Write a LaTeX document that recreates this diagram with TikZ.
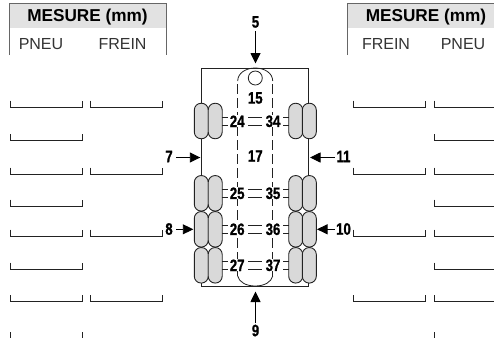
\documentclass[tikz,border=0pt]{standalone}
\usepackage{fontspec}
\setmainfont{Liberation Sans}
\newfontfamily\numfont[FakeStretch=0.8,FakeBold=1]{Liberation Sans Bold}
\usetikzlibrary{arrows.meta}
\definecolor{hdrgray}{HTML}{E2E2E2}
\definecolor{tiregray}{HTML}{D9D9D9}
\definecolor{inkgray}{HTML}{222222}
\definecolor{framegray}{HTML}{666666}
\tikzset{
  tire/.style={draw=inkgray,line width=0.9pt,fill=tiregray,rounded corners=6.8pt,minimum width=14pt,minimum height=35.5pt,inner sep=0pt,outer sep=0pt},
  num/.style={font=\numfont\fontsize{16.5}{16.5}\selectfont,text=black,fill=white,inner sep=0.2pt,anchor=center},
  free/.style={font=\numfont\fontsize{16.5}{16.5}\selectfont,text=black,inner sep=0pt,anchor=center},
  hbold/.style={font=\bfseries\fontsize{17.2}{17.2}\selectfont,inner sep=0pt,anchor=center},
  hreg/.style={font=\fontsize{16}{16}\selectfont,text=black!80,inner sep=0pt,anchor=center},
  bracket/.style={draw=inkgray,line width=0.9pt},
  body/.style={draw=inkgray,line width=1pt},
  lane/.style={draw=inkgray,line width=0.8pt},
  frameline/.style={draw=framegray,line width=1pt},
  arr/.style={draw=black,line width=0.9pt,-{Triangle[length=10.5pt,width=10pt]},shorten >=0pt},
  tick/.style={draw=inkgray,line width=0.8pt}
}
\begin{document}
\begin{tikzpicture}[x=1pt,y=-1pt]
\useasboundingbox (0,0) rectangle (494,338);
% headers
\fill[hdrgray] (9,3.5) rectangle (166,28);
\fill[hdrgray] (347,3.5) rectangle (494,28);
\draw[frameline] (9,55) -- (9,3.5) -- (166,3.5) -- (166,55);
\draw[frameline] (347,55) -- (347,3.5) -- (494,3.5);
\node[hbold] (mL) at (87.5,17) {MESURE (mm)};
\node[hbold] (mR) at (426,17) {MESURE (mm)};
\node[hreg] (pL) at (41,44) {PNEU};
\node[hreg] (fL) at (122.5,44) {FREIN};
\node[hreg] (fR) at (386,44) {FREIN};
\node[hreg] (pR) at (463,44) {PNEU};
% brackets
\foreach \y in {107,140.7,174,206,236,269,301.7}{
  \draw[bracket] (10.5,\y-6.5) -- (10.5,\y) -- (82,\y) -- (82,\y-6.5);
  \draw[bracket] (434,\y-6.5) -- (434,\y) -- (494,\y);
}
\foreach \y in {107,174,236,301.7}{
  \draw[bracket] (90.5,\y-6.5) -- (90.5,\y) -- (162,\y) -- (162,\y-6.5);
  \draw[bracket] (353.5,\y-6.5) -- (353.5,\y) -- (425,\y) -- (425,\y-6.5);
}
\draw[bracket] (10.5,332) -- (10.5,338);
\draw[bracket] (82,332) -- (82,338);
\draw[bracket] (434,332) -- (434,338);
% body
\draw[body] (201.3,68) rectangle (308.7,286);
% lane
\draw[lane] (237.7,81) .. controls (237.7,73) and (246,68) .. (255.2,68) .. controls (264.4,68) and (272.7,73) .. (272.7,81);
\draw[lane,dash pattern=on 10pt off 4pt] (237.7,84) -- (237.7,276);
\draw[lane,dash pattern=on 10pt off 4pt] (272.7,84) -- (272.7,276);
\draw[lane] (237.7,276) .. controls (239,282) and (246,286) .. (255.2,286) .. controls (264.4,286) and (271.4,282) .. (272.7,276);
\node[draw=inkgray,line width=0.8pt,fill=white,circle,minimum size=14pt,inner sep=0pt] (hole) at (255.3,78) {};
% tires
\foreach \nm/\y in {a/121,b/193.3,c/229.3,d/265.3}{
  \node[tire] (\nm1) at (201.3,\y) {};
  \node[tire] (\nm2) at (215.2,\y) {};
  \node[tire] (\nm3) at (295.7,\y) {};
  \node[tire] (\nm4) at (309.3,\y) {};
}
% ticks and labels
\foreach \l/\r/\y in {24/34/121.3,25/35/193.3,26/36/229.3,27/37/265.3}{
  \node[num] (n\l) at (237.2,\y) {\l};
  \node[num] (n\r) at (273,\y) {\r};
  \foreach \d in {-4,4}{
    \draw[tick] (222.3,\y+\d) -- (228,\y+\d);
    \draw[tick] (248,\y+\d) -- (262,\y+\d);
    \draw[tick] (283,\y+\d) -- (288.7,\y+\d);
  }
}
\node[num] (n15) at (255.3,98) {15};
\node[num] (n17) at (255.3,156) {17};
% arrows
\node[free] (l5) at (255.5,22) {5};
\node[free] (l7) at (169,156.5) {7};
\node[free] (l8) at (169,229) {8};
\node[free] (l9) at (255.5,330.5) {9};
\node[free] (l10) at (343.5,229) {10};
\node[free] (l11) at (343.5,156.5) {11};
\coordinate (t5) at (255.5,63.5);
\coordinate (t7) at (200.3,157.5);
\coordinate (t8) at (193.3,229.3);
\coordinate (t9) at (255.5,291.5);
\coordinate (t10) at (317,229.3);
\coordinate (t11) at (310,157.5);
\draw[arr] (255.5,31) -- (t5);
\draw[arr] (176,157.5) -- (t7);
\draw[arr] (176,229.3) -- (t8);
\draw[arr] (255.5,323) -- (t9);
\draw[arr] (334.5,229.3) -- (t10);
\draw[arr] (334.5,157.5) -- (t11);
\end{tikzpicture}
\end{document}
